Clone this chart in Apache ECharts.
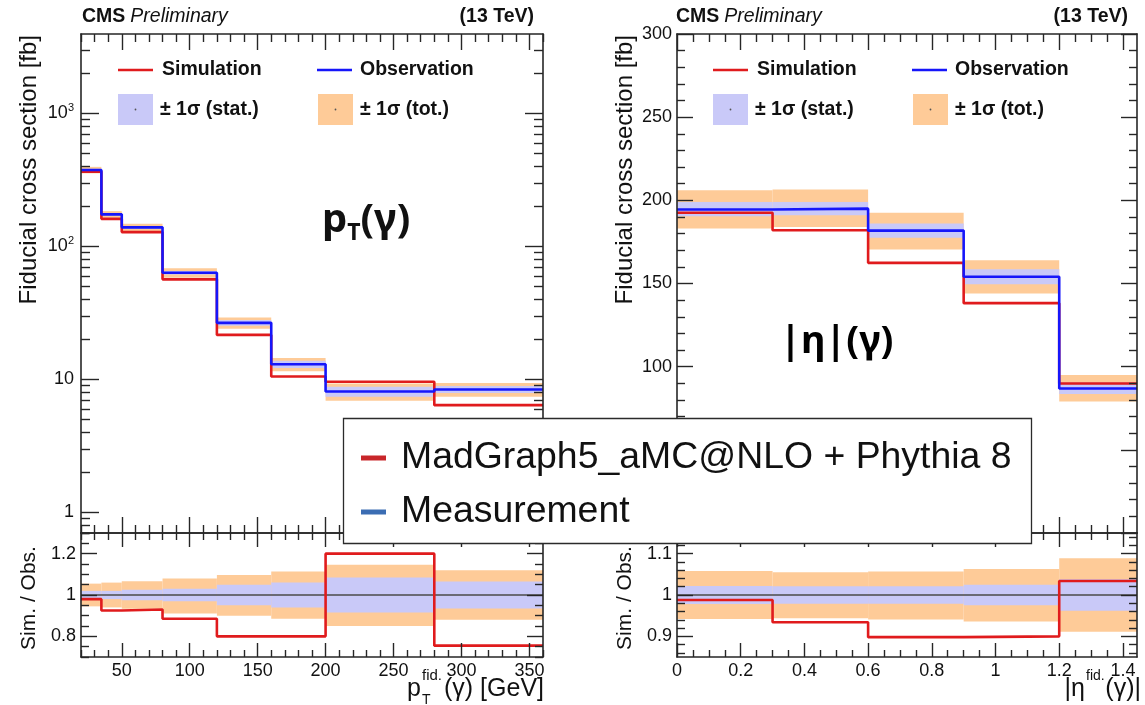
<!DOCTYPE html>
<html>
<head>
<meta charset="utf-8">
<script src="https://cdn.jsdelivr.net/npm/echarts@6/dist/echarts.min.js"></script>
<style>
  html, body { margin: 0; padding: 0; background: #fff; }
  #chart { width: 1145px; height: 705px; }
</style>
</head>
<body>
<div id="chart"></div>
<script>
// ---- photon pT spectrum: bin edges [GeV] and fiducial cross sections [fb]
const ptEdges = [20, 35, 50, 80, 120, 160, 200, 280, 360];
const ptObs = [375, 174, 139, 63.3, 26.6, 13.0, 8.1, 8.4];
const ptSim = [365, 161, 128, 56.5, 21.6, 10.5, 9.6, 6.4];
const ptTotLo = [354, 164, 130, 58.2, 24.0, 11.5, 6.9, 7.4];
const ptTotHi = [396, 184, 148, 68.4, 29.2, 14.5, 9.3, 9.4];
const ptStatLo = [367, 170.5, 135.5, 61.4, 25.3, 12.2, 7.4, 7.9];
const ptStatHi = [383, 177.5, 142.5, 65.2, 27.9, 13.8, 8.8, 8.9];
// simulation / observation
const ptRatio = [0.98, 0.925, 0.93, 0.885, 0.80, 0.80, 1.20, 0.755];
const ptRatioTotLo = [0.945, 0.94, 0.933, 0.91, 0.90, 0.885, 0.85, 0.88];
const ptRatioTotHi = [1.055, 1.06, 1.067, 1.08, 1.097, 1.114, 1.146, 1.12];
const ptRatioStatLo = [0.98, 0.98, 0.975, 0.97, 0.95, 0.94, 0.915, 0.935];
const ptRatioStatHi = [1.02, 1.02, 1.025, 1.03, 1.05, 1.06, 1.085, 1.065];

// ---- photon |eta| spectrum
const etaEdges = [0, 0.3, 0.6, 0.9, 1.2, 1.4442];
const etaObs = [194.5, 195.0, 181.8, 154.1, 86.9];
const etaSim = [192.5, 182.0, 162.4, 138.2, 89.9];
const etaTotLo = [183.0, 184.0, 170.5, 144.0, 79.0];
const etaTotHi = [206.0, 206.5, 192.5, 164.0, 95.0];
const etaStatLo = [190.5, 191.0, 177.5, 149.5, 83.5];
const etaStatHi = [199.0, 199.0, 186.0, 158.5, 90.5];
const etaRatio = [0.988, 0.934, 0.898, 0.90, 1.034];
const etaRatioTotLo = [0.942, 0.944, 0.941, 0.936, 0.911];
const etaRatioTotHi = [1.058, 1.055, 1.057, 1.063, 1.089];
const etaRatioStatLo = [0.978, 0.979, 0.979, 0.975, 0.962];
const etaRatioStatHi = [1.022, 1.021, 1.021, 1.025, 1.038];

// ---- tick labels
const ptTicks = [50, 100, 150, 200, 250, 300, 350];
const etaTicks = [0, 0.2, 0.4, 0.6, 0.8, 1, 1.2, 1.4];
const xsLogTicks = [1, 10, 100, 1000];
const xsEtaTicks = [0, 50, 100, 150, 200, 250, 300];
const ptRatioTicks = [0.8, 1, 1.2];
const etaRatioTicks = [0.9, 1, 1.1];

// ---- styling
const FONT = '"Liberation Sans", Arial, Helvetica, sans-serif';
const AX = '#262626';
const RED = '#e01b1d';
const BLUE = '#1616fa';
const ORANGE = '#fecb98';
const LAVENDER = '#c9c9f8';

function steps(a, b, d) {
  const out = [];
  for (let v = a; v <= b + 1e-9; v += d) out.push(+v.toFixed(4));
  return out;
}
function minorOf(all, major) {
  return all.filter(v => !major.some(m => Math.abs(m - v) < 1e-6));
}
function logMinor(min, max) {
  const out = [];
  for (let e = -1; e <= 4; e++) {
    for (let k = 2; k <= 9; k++) {
      const v = +(k * Math.pow(10, e)).toPrecision(6);
      if (v >= min - 1e-9 && v <= max + 1e-9) out.push(v);
    }
  }
  return out;
}

const RICH = { s: { fontSize: 11, lineHeight: 11, verticalAlign: 'top', fontFamily: FONT, color: '#111' } };
const logFmt = v => (v >= 100 ? '10{s|' + Math.round(Math.log10(v)) + '}' : String(v));

const grids = [], xAxes = [], yAxes = [];

function axis(gridIndex, position, s, ticks, len, line, labels) {
  return {
    type: s.log ? 'log' : 'value',
    logBase: 10,
    gridIndex, position,
    min: s.min, max: s.max,
    z: 8,
    axisLine: { show: line, onZero: false, lineStyle: { color: AX, width: 1.6 } },
    axisTick: { show: true, inside: true, length: len, customValues: ticks, lineStyle: { color: AX, width: 1.4 } },
    axisLabel: labels ? {
      show: true, customValues: labels, formatter: s.fmt, margin: s.margin,
      color: '#111', fontFamily: FONT, fontSize: 18, lineHeight: 22, rich: RICH, hideOverlap: false
    } : { show: false },
    splitLine: { show: false },
    axisPointer: { show: false }
  };
}

function addPanel(rect, xs, ys) {
  const g = grids.length;
  grids.push(Object.assign({ containLabel: false, outerBoundsMode: 'none' }, rect));
  grids.push(Object.assign({ containLabel: false, outerBoundsMode: 'none' }, rect));
  const xi = xAxes.length, yi = yAxes.length;
  xAxes.push(axis(g, 'bottom', xs, xs.major, xs.majLen, true, xs.labels));
  xAxes.push(axis(g, 'top', xs, xs.major, xs.majLen, true, null));
  yAxes.push(axis(g, 'left', ys, ys.major, ys.majLen, true, ys.labels));
  yAxes.push(axis(g, 'right', ys, ys.major, ys.majLen, true, null));
  xAxes.push(axis(g + 1, 'bottom', xs, xs.minor, xs.minLen, false, null));
  xAxes.push(axis(g + 1, 'top', xs, xs.minor, xs.minLen, false, null));
  yAxes.push(axis(g + 1, 'left', ys, ys.minor, ys.minLen, false, null));
  yAxes.push(axis(g + 1, 'right', ys, ys.minor, ys.minLen, false, null));
  return { xi, yi };
}

// x scales
const ptX = { min: 20, max: 360, major: ptTicks, minor: minorOf(steps(20, 360, 10), ptTicks), majLen: 16, minLen: 8 };
const etaX = { min: 0, max: 1.4442, major: etaTicks, minor: minorOf(steps(0, 1.4442, 0.05), etaTicks), majLen: 16, minLen: 8 };

const L = { left: 81, width: 462 };
const R = { left: 677, width: 460 };
const MAIN = { top: 34, height: 499 };
const RAT = { top: 533, height: 124 };

const pMainL = addPanel(Object.assign({}, L, MAIN), ptX,
  { log: true, min: 0.7, max: 3950, major: xsLogTicks, minor: logMinor(0.7, 3950), majLen: 18, minLen: 9, labels: xsLogTicks, fmt: logFmt, margin: 7 });
const pRatL = addPanel(Object.assign({}, L, RAT),
  Object.assign({}, ptX, { labels: ptTicks, margin: 3, majLen: 14, minLen: 7 }),
  { min: 0.7, max: 1.3, major: ptRatioTicks, minor: minorOf(steps(0.7, 1.3, 0.05), ptRatioTicks), majLen: 16, minLen: 8, labels: ptRatioTicks, margin: 5 });
const pMainR = addPanel(Object.assign({}, R, MAIN), etaX,
  { min: 0, max: 300, major: xsEtaTicks, minor: minorOf(steps(0, 300, 10), xsEtaTicks), majLen: 16, minLen: 8, labels: xsEtaTicks, margin: 5 });
const pRatR = addPanel(Object.assign({}, R, RAT),
  Object.assign({}, etaX, { labels: etaTicks, margin: 3, majLen: 14, minLen: 7 }),
  { min: 0.85, max: 1.15, major: etaRatioTicks, minor: minorOf(steps(0.86, 1.14, 0.02), etaRatioTicks), majLen: 16, minLen: 8, labels: etaRatioTicks, margin: 5 });

// ---- series builders
function band(p, edges, lo, hi, color, z) {
  return {
    type: 'custom', xAxisIndex: p.xi, yAxisIndex: p.yi, z, silent: true, clip: true,
    data: lo.map((l, i) => [edges[i], edges[i + 1], l, hi[i]]),
    encode: { x: [0, 1], y: [2, 3] },
    renderItem(params, api) {
      const a = api.coord([api.value(0), api.value(3)]);
      const b = api.coord([api.value(1), api.value(2)]);
      return { type: 'rect', shape: { x: a[0], y: a[1], width: b[0] - a[0], height: b[1] - a[1] }, style: { fill: color } };
    }
  };
}
function hist(p, edges, vals, color, width, z) {
  return {
    type: 'line', xAxisIndex: p.xi, yAxisIndex: p.yi, z, silent: true, step: 'end',
    symbol: 'none', clip: true,
    data: edges.map((e, i) => [e, vals[Math.min(i, vals.length - 1)]]),
    lineStyle: { color, width }
  };
}
function unity(p, xr) {
  return {
    type: 'line', xAxisIndex: p.xi, yAxisIndex: p.yi, z: 4, silent: true, symbol: 'none',
    data: [[xr.min, 1], [xr.max, 1]], lineStyle: { color: '#4a4a4a', width: 1.6 }
  };
}

const series = [
  band(pMainL, ptEdges, ptTotLo, ptTotHi, ORANGE, 2),
  band(pMainL, ptEdges, ptStatLo, ptStatHi, LAVENDER, 3),
  hist(pMainL, ptEdges, ptSim, RED, 2.6, 5),
  hist(pMainL, ptEdges, ptObs, BLUE, 2.6, 6),

  band(pRatL, ptEdges, ptRatioTotLo, ptRatioTotHi, ORANGE, 2),
  band(pRatL, ptEdges, ptRatioStatLo, ptRatioStatHi, LAVENDER, 3),
  unity(pRatL, ptX),
  hist(pRatL, ptEdges, ptRatio, RED, 2.6, 5),

  band(pMainR, etaEdges, etaTotLo, etaTotHi, ORANGE, 2),
  band(pMainR, etaEdges, etaStatLo, etaStatHi, LAVENDER, 3),
  hist(pMainR, etaEdges, etaSim, RED, 2.6, 5),
  hist(pMainR, etaEdges, etaObs, BLUE, 2.6, 6),

  band(pRatR, etaEdges, etaRatioTotLo, etaRatioTotHi, ORANGE, 2),
  band(pRatR, etaEdges, etaRatioStatLo, etaRatioStatHi, LAVENDER, 3),
  unity(pRatR, etaX),
  hist(pRatR, etaEdges, etaRatio, RED, 2.6, 5)
];

// ---- annotations
function text(x, y, t, o) {
  o = o || {};
  return {
    type: 'text', x, y, rotation: o.rotation || 0, z: o.z || 50, silent: true,
    style: {
      text: t, fill: o.color || '#111', fontFamily: o.family || FONT, fontSize: o.size || 18,
      fontWeight: o.weight || 'normal', fontStyle: o.style || 'normal',
      align: o.align || 'left', textAlign: o.align || 'left',
      verticalAlign: o.valign || 'middle', textVerticalAlign: o.valign || 'middle',
      rich: o.rich
    }
  };
}
function seg(x1, y1, x2, y2, color, w, z) {
  return { type: 'line', z: z || 50, silent: true, shape: { x1, y1, x2, y2 }, style: { stroke: color, lineWidth: w } };
}
function box(x, y, w, h, fill, z) {
  return { type: 'rect', z: z || 50, silent: true, shape: { x, y, width: w, height: h }, style: { fill } };
}
function dot(cx, cy) {
  return { type: 'circle', z: 51, silent: true, shape: { cx, cy, r: 0.9 }, style: { fill: '#555' } };
}

const HEAD_RICH = {
  b: { fontFamily: FONT, fontSize: 19.5, fontWeight: 'bold', color: '#111' },
  i: { fontFamily: FONT, fontSize: 19.5, fontStyle: 'italic', color: '#111' }
};

function panelDecor(x0, xr, lx) {
  return [
    text(x0, 17, '{b|CMS} {i|Preliminary}', { rich: HEAD_RICH }),
    text(xr, 17, '(13 TeV)', { align: 'right', weight: 'bold', size: 19.5 }),
    seg(lx, 70, lx + 35, 70, RED, 2.6),
    text(lx + 44, 70, 'Simulation', { weight: 'bold', size: 19.5 }),
    seg(lx + 199, 70, lx + 234, 70, BLUE, 2.6),
    text(lx + 242, 70, 'Observation', { weight: 'bold', size: 19.5 }),
    box(lx, 94, 35, 31, LAVENDER),
    dot(lx + 17.5, 109.5),
    text(lx + 42, 110, '± 1σ (stat.)', { weight: 'bold', size: 19.5 }),
    box(lx + 200, 94, 35, 31, ORANGE),
    dot(lx + 217.5, 109.5),
    text(lx + 242, 110, '± 1σ (tot.)', { weight: 'bold', size: 19.5 })
  ];
}

const BIG = 'Noto Sans, "Open Sans", sans-serif';
const graphics = [].concat(
  panelDecor(82, 534, 118),
  panelDecor(676, 1128, 713),
  [
    // y-axis titles
    text(29, 35, 'Fiducial cross section [fb]', { rotation: Math.PI / 2, align: 'right', size: 24 }),
    text(29, 598, 'Sim. / Obs.', { rotation: Math.PI / 2, align: 'center', size: 21 }),
    text(625, 35, 'Fiducial cross section [fb]', { rotation: Math.PI / 2, align: 'right', size: 24 }),
    text(625, 598, 'Sim. / Obs.', { rotation: Math.PI / 2, align: 'center', size: 21 }),
    // x-axis titles
    text(421, 689, 'p', { align: 'right', size: 25 }),
    text(422, 676, 'fid.', { size: 15 }),
    text(422, 700, 'T', { size: 14 }),
    text(544, 689, '(γ) [GeV]', { align: 'right', size: 25 }),
    text(1085, 689, '|η', { align: 'right', size: 25 }),
    text(1086, 676, 'fid.', { size: 14 }),
    text(1141, 689, '(γ)|', { align: 'right', size: 25 }),
    // observable labels
    text(322, 221, '{a|p}{t|T}{a|(γ)}', {
      rich: {
        a: { fontFamily: BIG, fontSize: 40, fontWeight: 'bold', color: '#000', lineHeight: 48 },
        t: { fontFamily: BIG, fontSize: 23, fontWeight: 'bold', color: '#000', lineHeight: 20, verticalAlign: 'bottom' }
      }
    }),
    text(780, 342, '|η|(γ)', { family: BIG, size: 38, weight: 'bold', color: '#000' }),
    // generator / data legend
    { type: 'rect', z: 100, silent: true, shape: { x: 343.5, y: 418.5, width: 688, height: 125 },
      style: { fill: '#fff', stroke: '#2b2b2b', lineWidth: 1.3 } },
    seg(361, 458, 386, 458, '#c8262a', 5, 101),
    text(401, 458, 'MadGraph5_aMC@NLO + Phythia 8', { size: 37.4, z: 101 }),
    seg(361, 512, 386, 512, '#3b6db3', 5, 101),
    text(401, 512, 'Measurement', { size: 37.4, z: 101 })
  ]
);

const chart = echarts.init(document.getElementById('chart'), null, { renderer: 'canvas' });
chart.setOption({
  animation: false,
  backgroundColor: '#fff',
  grid: grids,
  xAxis: xAxes,
  yAxis: yAxes,
  series,
  graphic: graphics
});
</script>
</body>
</html>
